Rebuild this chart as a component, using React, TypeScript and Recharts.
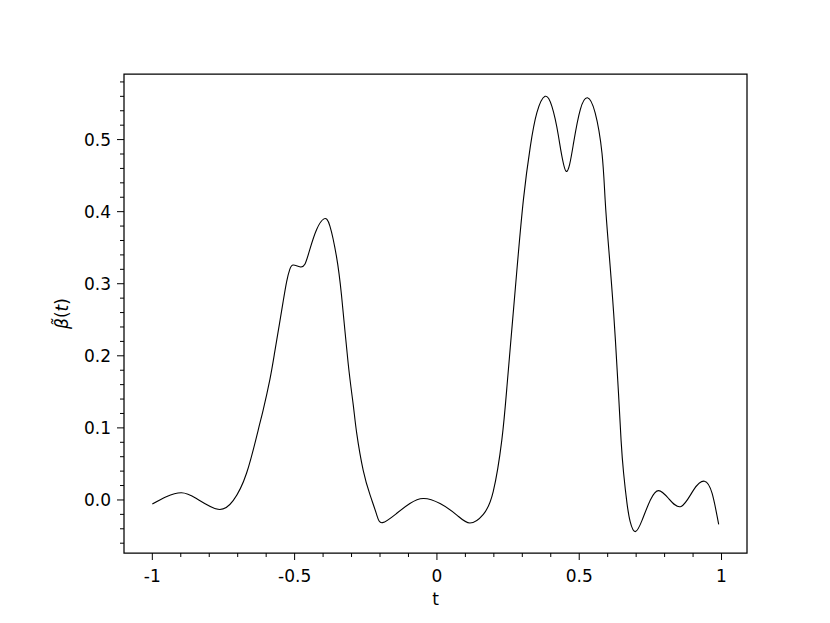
import { LineChart, Line, XAxis, YAxis, ReferenceArea } from "recharts";

const tValues = [
  -1.0, -0.951, -0.898, -0.845, -0.769, -0.716, -0.669, -0.628, -0.611, -0.587,
  -0.57, -0.553, -0.54, -0.528, -0.517, -0.505, -0.482, -0.464, -0.447, -0.423,
  -0.397, -0.376, -0.353, -0.335, -0.312, -0.294, -0.282, -0.259, -0.235, -0.212,
  -0.191, -0.141, -0.095, -0.048, 0.011, 0.07, 0.116, 0.163, 0.198, 0.228,
  0.246, 0.263, 0.281, 0.304, 0.328, 0.351, 0.38, 0.404, 0.427, 0.454,
  0.48, 0.504, 0.529, 0.556, 0.58, 0.591, 0.603, 0.621, 0.638, 0.647,
  0.656, 0.668, 0.679, 0.697, 0.721, 0.75, 0.779, 0.814, 0.858, 0.902,
  0.94, 0.967, 0.99,
];
const betaValues = [
  -0.0055, 0.0046, 0.01, 0.002, -0.013, -0.001, 0.037, 0.097, 0.124, 0.167,
  0.205, 0.245, 0.276, 0.303, 0.32, 0.326, 0.3235, 0.327, 0.347, 0.375,
  0.39, 0.38, 0.338, 0.283, 0.19, 0.132, 0.093, 0.041, 0.007, -0.02,
  -0.0315, -0.0185, -0.005, 0.002, -0.005, -0.021, -0.032, -0.02, 0.012, 0.083,
  0.157, 0.236, 0.319, 0.417, 0.49, 0.537, 0.56, 0.546, 0.505, 0.456,
  0.495, 0.542, 0.558, 0.537, 0.481, 0.417, 0.352, 0.259, 0.148, 0.083,
  0.037, -0.005, -0.03, -0.044, -0.028, 0.0, 0.013, 0.002, -0.009, 0.014,
  0.026, 0.009, -0.034,
];

const xMajorTicks = [-1, -0.5, 0, 0.5, 1];
const xMajorLabels = ["-1", "-0.5", "0", "0.5", "1"];
const xMinorTicks = [-0.9, -0.8, -0.7, -0.6, -0.4, -0.3, -0.2, -0.1, 0.1, 0.2, 0.3, 0.4, 0.6, 0.7, 0.8, 0.9];
const yMajorTicks = [0, 0.1, 0.2, 0.3, 0.4, 0.5];
const yMajorLabels = ["0.0", "0.1", "0.2", "0.3", "0.4", "0.5"];
const yMinorTicks = [
  -0.06, -0.04, -0.02, 0.02, 0.04, 0.06, 0.08, 0.12, 0.14, 0.16, 0.18, 0.22, 0.24, 0.26, 0.28,
  0.32, 0.34, 0.36, 0.38, 0.42, 0.44, 0.46, 0.48, 0.52, 0.54, 0.56, 0.58,
];

const xDomain: [number, number] = [-1.0995, 1.0895];
const yDomain: [number, number] = [-0.0736, 0.591];

const data = tValues.map((t, i) => ({ t, beta: betaValues[i] }));

const FONT = "'DejaVu Sans', sans-serif";

function majorIndex(list: number[], v: number) {
  return list.findIndex((m) => Math.abs(m - v) < 1e-9);
}

function XTick(props: any) {
  const { x, y, payload } = props;
  const idx = majorIndex(xMajorTicks, payload.value);
  const major = idx >= 0;
  return (
    <g>
      <line x1={x} x2={x} y1={y} y2={y + (major ? 7 : 4)} stroke="#000" strokeWidth={1} />
      {major && (
        <text x={x} y={y + 29} textAnchor="middle" fontSize={17} fontFamily={FONT} fill="#000">
          {xMajorLabels[idx]}
        </text>
      )}
    </g>
  );
}

function YTick(props: any) {
  const { x, y, payload } = props;
  const idx = majorIndex(yMajorTicks, payload.value);
  const major = idx >= 0;
  return (
    <g>
      <line x1={x} x2={x - (major ? 7 : 4)} y1={y} y2={y} stroke="#000" strokeWidth={1} />
      {major && (
        <text x={x - 13} y={y} dy="0.36em" textAnchor="end" fontSize={17} fontFamily={FONT} fill="#000">
          {yMajorLabels[idx]}
        </text>
      )}
    </g>
  );
}

export default function App() {
  return (
    <div style={{ position: "absolute", left: 0, top: 0, width: 830, height: 623, background: "#fff" }}>
      <LineChart width={830} height={623} data={data} margin={{ top: 74, right: 83, bottom: 0, left: 0 }}>
        <XAxis
          dataKey="t"
          type="number"
          domain={xDomain}
          allowDataOverflow
          ticks={[...xMajorTicks, ...xMinorTicks].sort((a, b) => a - b)}
          interval={0}
          tickSize={0}
          tickMargin={0}
          tickLine={false}
          axisLine={false}
          height={70}
          tick={(p: any) => <XTick {...p} />}
          label={{
            content: (p: any) => {
              const vb = p.viewBox;
              return (
                <text x={vb.x + vb.width / 2} y={vb.y + 52} textAnchor="middle" fontSize={17} fontFamily={FONT} fill="#000">
                  t
                </text>
              );
            },
          }}
        />
        <YAxis
          type="number"
          domain={yDomain}
          allowDataOverflow
          ticks={[...yMajorTicks, ...yMinorTicks].sort((a, b) => a - b)}
          interval={0}
          tickSize={0}
          tickMargin={0}
          tickLine={false}
          axisLine={false}
          width={124}
          tick={(p: any) => <YTick {...p} />}
          label={{
            content: (p: any) => {
              const vb = p.viewBox;
              const cx = 68;
              const cy = vb.y + vb.height / 2;
              return (
                <text
                  x={cx}
                  y={cy}
                  transform={`rotate(-90, ${cx}, ${cy})`}
                  textAnchor="middle"
                  fontSize={17}
                  fontFamily={FONT}
                  fill="#000"
                >
                  <tspan fontStyle="italic">{"\u03B2\u0303"}</tspan>
                  <tspan>(</tspan>
                  <tspan fontStyle="italic">t</tspan>
                  <tspan>)</tspan>
                </text>
              );
            },
          }}
        />
        <ReferenceArea
          x1={xDomain[0]}
          x2={xDomain[1]}
          y1={yDomain[0]}
          y2={yDomain[1]}
          fill="none"
          stroke="#000"
          strokeWidth={1.25}
          ifOverflow="visible"
        />
        <Line
          type="natural"
          dataKey="beta"
          stroke="#000"
          strokeWidth={1.1}
          dot={false}
          isAnimationActive={false}
        />
      </LineChart>
    </div>
  );
}
